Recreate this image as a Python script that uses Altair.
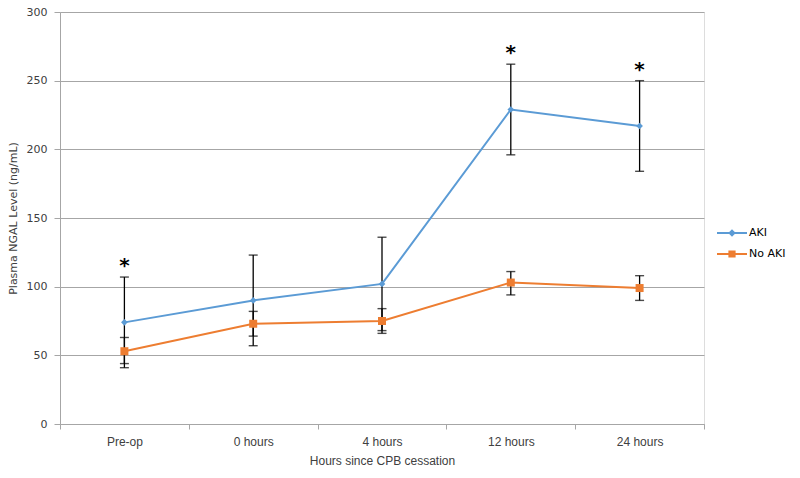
import altair as alt
import pandas as pd

times = ["Pre-op", "0 hours", "4 hours", "12 hours", "24 hours"]
groups = ["AKI", "No AKI"]
aki_mean = [74, 90, 102, 229, 217]
aki_lo = [41, 57, 68, 196, 184]
aki_hi = [107, 123, 136, 262, 250]
noaki_mean = [53, 73, 75, 103, 99]
noaki_lo = [44, 64, 66, 94, 90]
noaki_hi = [63, 82, 84, 111, 108]
significant = ["Pre-op", "12 hours", "24 hours"]
colors = ["#5B9BD5", "#ED7D31"]

rows = []
for g, m, lo, hi in [("AKI", aki_mean, aki_lo, aki_hi), ("No AKI", noaki_mean, noaki_lo, noaki_hi)]:
    for t, a, b, c in zip(times, m, lo, hi):
        rows.append({"time": t, "group": g, "mean": a, "lo": b, "hi": c,
                     "star": "*" if (g == "AKI" and t in significant) else ""})
df = pd.DataFrame(rows)

x = alt.X("time:N", sort=times, title="Hours since CPB cessation",
          scale=alt.Scale(paddingInner=0, paddingOuter=0),
          axis=alt.Axis(labelAngle=0, tickBand="extent", tickSize=5, domainColor="#A6A6A6",
                        tickColor="#A6A6A6", labelFont="Liberation Sans", labelFontSize=12,
                        labelColor="#404040", labelPadding=7, titleFont="Liberation Sans",
                        titleFontSize=12, titleFontWeight="normal", titleColor="#404040",
                        titlePadding=8, grid=False))
y_axis = alt.Axis(values=[0, 50, 100, 150, 200, 250, 300], tickSize=6, domainColor="#A6A6A6",
                  tickColor="#A6A6A6", gridColor="#A6A6A6", gridWidth=1,
                  labelFont="DejaVu Sans", labelFontSize=11, labelColor="#404040", labelPadding=7,
                  title="Plasma NGAL Level  (ng/mL)", titleFont="DejaVu Sans", titleFontSize=11,
                  titleFontWeight="normal", titleColor="#404040", titlePadding=8)
yscale = alt.Scale(domain=[0, 300], nice=False)
color = alt.Color("group:N", scale=alt.Scale(domain=groups, range=colors), legend=None)

base = alt.Chart(df)

bars = base.mark_rule(color="black", strokeWidth=1.3).encode(
    x=x, y=alt.Y("lo:Q", scale=yscale, axis=y_axis), y2="hi:Q")
cap_lo = base.mark_tick(color="black", size=9, thickness=1.4).encode(x=x, y=alt.Y("lo:Q", scale=yscale))
cap_hi = base.mark_tick(color="black", size=9, thickness=1.4).encode(x=x, y=alt.Y("hi:Q", scale=yscale))

lines = base.mark_line(strokeWidth=2).encode(
    x=x, y=alt.Y("mean:Q", scale=yscale), color=color, detail="group:N")

pts_aki = base.transform_filter(alt.datum.group == "AKI").mark_point(
    filled=True, shape="diamond", size=45, opacity=1).encode(
    x=x, y=alt.Y("mean:Q", scale=yscale), color=color)
pts_no = base.transform_filter(alt.datum.group == "No AKI").mark_point(
    filled=True, shape="square", size=64, opacity=1).encode(
    x=x, y=alt.Y("mean:Q", scale=yscale), color=color)

stars = base.transform_filter(alt.datum.star != "").mark_text(
    fontSize=20, fontWeight="bold", font="DejaVu Sans", color="black", baseline="middle", dy=-11).encode(
    x=x, y=alt.Y("hi:Q", scale=yscale), text="star:N")

path_aki = "M-1.5,-0.09L1.5,-0.09L1.5,0.09L-1.5,0.09Z M0,-0.38L0.38,0L0,0.38L-0.38,0Z"
path_no = "M-1.5,-0.09L1.5,-0.09L1.5,0.09L-1.5,0.09Z M-0.36,-0.36L0.36,-0.36L0.36,0.36L-0.36,0.36Z"

leg = alt.Legend(title=None, orient="none", legendX=662, legendY=211,
                 symbolSize=400, symbolOpacity=1, symbolStrokeWidth=0,
                 labelFont="DejaVu Sans", labelFontSize=11, labelLimit=200,
                 labelColor="#000000", labelOffset=7, rowPadding=6)

legend_layer = base.transform_calculate(series="datum.group").mark_point(
    filled=True, opacity=0, size=1).encode(
    x=x, y=alt.Y("mean:Q", scale=yscale),
    color=alt.Color("series:N", scale=alt.Scale(domain=groups, range=colors), legend=leg),
    shape=alt.Shape("series:N", scale=alt.Scale(domain=groups, range=[path_aki, path_no]), legend=leg))

chart = alt.layer(bars, cap_lo, cap_hi, lines, pts_aki, pts_no, stars, legend_layer).resolve_scale(
    color="independent", shape="independent").resolve_legend(
    color="independent", shape="independent").properties(
    width=644, height=412,
    autosize=alt.AutoSizeParams(type="none"),
    padding={"left": 52, "top": 4, "right": 88, "bottom": 46},
).configure_view(stroke=None).configure(background="white")

chart.save("out.html", embed_options={"renderer": "svg", "actions": False})
